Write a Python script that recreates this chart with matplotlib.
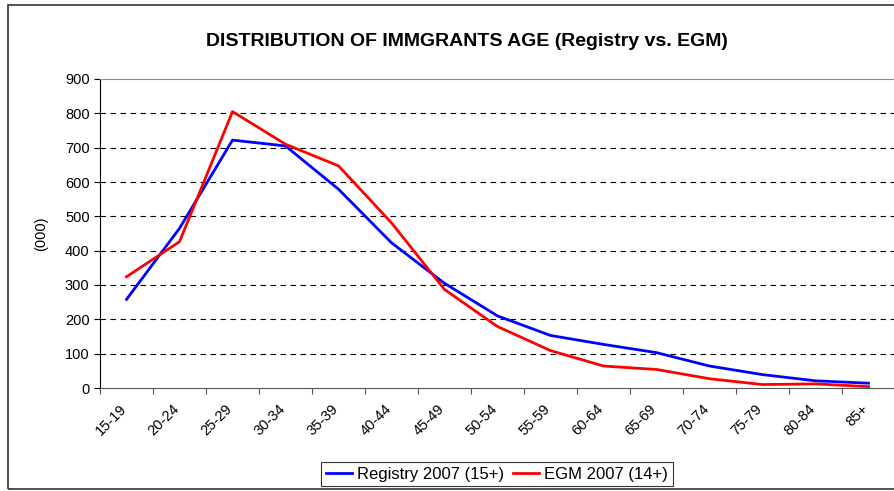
import numpy as np
import matplotlib.pyplot as plt
from matplotlib.patches import Rectangle

plt.rcParams["font.family"] = ["Liberation Sans", "DejaVu Sans"]

# age groups and population (thousands)
age_groups = ["15-19", "20-24", "25-29", "30-34", "35-39", "40-44", "45-49",
              "50-54", "55-59", "60-64", "65-69", "70-74", "75-79", "80-84", "85+"]
registry_2007 = [258, 465, 722, 705, 579, 423, 305, 210, 153, 127, 103, 64, 39, 21, 14]
egm_2007 = [324, 426, 805, 710, 647, 481, 287, 179, 109, 64, 54, 27, 10, 12, 4]

fig = plt.figure(figsize=(8.94, 4.91), dpi=100)
ax = fig.add_axes([100 / 894, 103 / 491, 795 / 894, 309 / 491])

x = np.arange(len(age_groups))
ax.plot(x, registry_2007, color="#0000FF", lw=2.0, label="Registry 2007 (15+)")
ax.plot(x, egm_2007, color="#FF0000", lw=2.0, label="EGM 2007 (14+)")

ax.set_xlim(-0.5, len(age_groups) - 0.5)
ax.set_ylim(0, 900)
ax.set_yticks(np.arange(0, 901, 100))
for v in range(100, 900, 100):
    ax.axhline(v, color="black", lw=0.8, ls=(0, (5, 4)), zorder=0)

# tick marks between categories, labels (slightly left of) the centres
ax.set_xticks(np.arange(-0.5, len(age_groups), 1.0))
ax.set_xticklabels([])
ax.set_xticks(x - 0.14, minor=True)
ax.set_xticklabels(age_groups, minor=True, rotation=45, ha="right",
                   rotation_mode="anchor", fontsize=10.5)
ax.tick_params(axis="x", which="major", length=4, color="#555555")
ax.tick_params(axis="x", which="minor", length=0, pad=10)
ax.tick_params(axis="y", length=4, labelsize=10.5, color="black")

ax.spines["right"].set_visible(False)
ax.spines["top"].set_color("#909090")
ax.spines["bottom"].set_color("#555555")
ax.spines["left"].set_color("black")

ax.set_ylabel("(000)", fontsize=10.5, labelpad=12)
fig.text(467 / 894, 1 - 42 / 491, "DISTRIBUTION OF IMMGRANTS AGE (Registry vs. EGM)",
         ha="center", va="center", fontsize=14, fontweight="bold")

leg = fig.legend(loc="center", bbox_to_anchor=(497 / 894, 1 - 474 / 491), ncol=2,
                 fontsize=12, frameon=True, fancybox=False, edgecolor="black",
                 handlelength=1.6, handletextpad=0.3, columnspacing=0.5,
                 borderpad=0.25, borderaxespad=0)
leg.get_frame().set_linewidth(0.8)

fig.patches.append(Rectangle((8 / 894, 2 / 491), 1.0, 484 / 491, transform=fig.transFigure,
                             fill=False, edgecolor="#333333", lw=1.2))

fig.savefig("out.png", dpi=100)
